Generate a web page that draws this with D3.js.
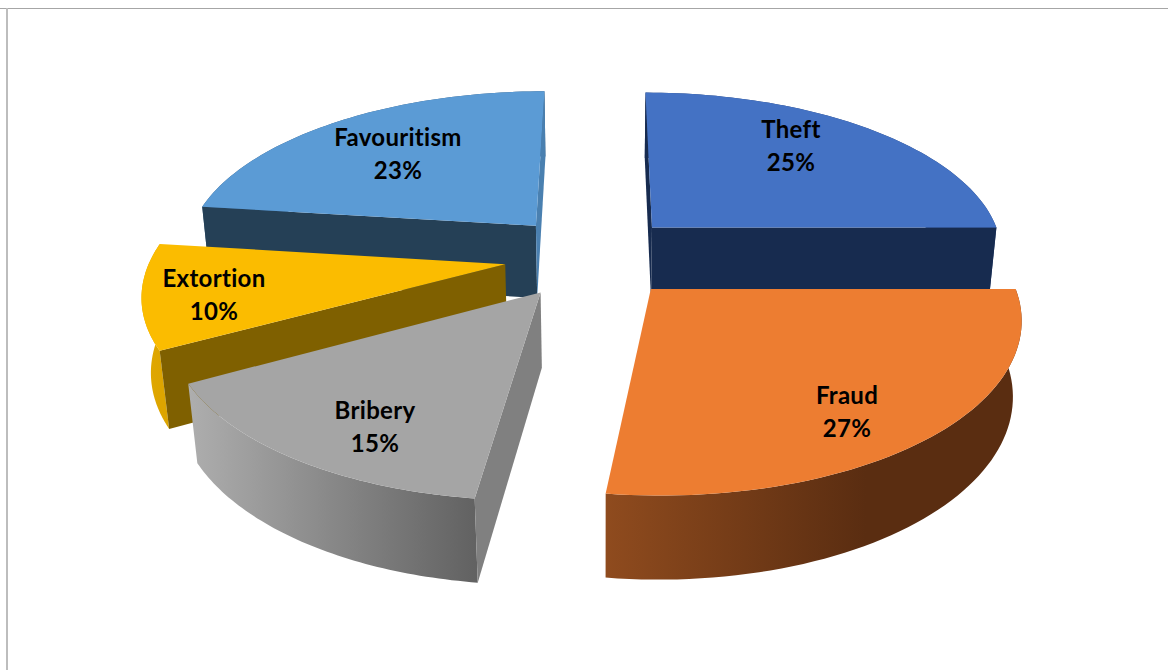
<!DOCTYPE html>
<html>
<head>
<meta charset="utf-8">
<title>Types of corruption</title>
<script src="https://cdn.jsdelivr.net/npm/d3@7/dist/d3.min.js"></script>
<style>
  html, body { margin: 0; padding: 0; background: #fff; }
  svg { display: block; }
  text { font-family: Lato, "Open Sans", sans-serif; font-weight: 700; font-size: 24px; letter-spacing: 0.3px; fill: #000; text-anchor: middle; }
</style>
</head>
<body>
<svg id="chart" width="1168" height="670"></svg>
<script>
// Slice data, clockwise from twelve o'clock
const categories = ["Theft", "Fraud", "Bribery", "Extortion", "Favouritism"];
const shares = [25, 27, 15, 10, 23];

// Fill colours per slice
const topColors = ["#4472C4", "#ED7D31", "#A5A5A5", "#FBBC00", "#5B9BD5"];
const startCutColors = ["#172B4F", "#5E2F12", "#808080", "#7F6000", "#254056"];
const endCutColors = ["#172B4F", "#5E2F12", "#808080", "#7F6000", "#4A80B0"];
const wallFrom = ["#2B4476", "#8F4B1E", "#AEAEAE", "#E2A900", "#375D80"];
const wallTo = ["#2B4476", "#5A2D11", "#626262", "#DDA500", "#375D80"];

// Label centres on the page
const labelCentres = [[791, 145], [847, 411], [375, 426], [214, 294], [398, 153]];

// Back-to-front painting order of the slices
const paintOrder = [0, 4, 3, 2, 1];

// Camera model of the tilted disc
const horizonY = -810;
const vanishX = 602;
const nadirY = 4810;
const thickness = 1.883e-5;
const discCentre = { across: -0.0292, along: 6.512 };
const explodeAcross = 0.2465;
const explodeAlong = 0.257;
const acrossScale = d3.scaleLinear().domain([0, 1]).range([0, 0.332]);
const alongScale = d3.scaleLinear().domain([0, 1]).range([0, 1.44e-4]);

// Disc coordinates to page coordinates; lower = true gives the underside of the slab
function project(across, along, lower) {
  const u = acrossScale(across);
  const q = alongScale(along);
  const h = lower ? thickness : 0;
  return [vanishX + u / (q + h), horizonY + (1 + nadirY * h) / (q + h)];
}

const svg = d3.select("#chart");
const defs = svg.append("defs");
const linePath = d3.line().curve(d3.curveLinear);

// Frame around the chart area
svg.append("rect").attr("x", 0).attr("y", 8).attr("width", 1168).attr("height", 1).attr("fill", "#A6A6A6");
svg.append("rect").attr("x", 6).attr("y", 8).attr("width", 2).attr("height", 662).attr("fill", "#BDBDBD");

const arcs = d3.pie().sort(null).value(d => d)(shares);

function signedArea(points) {
  let sum = 0;
  points.forEach((p, i) => {
    const n = points[(i + 1) % points.length];
    sum += p[0] * n[1] - n[0] * p[1];
  });
  return sum / 2;
}

paintOrder.forEach(i => {
  const arc = arcs[i];
  const mid = (arc.startAngle + arc.endAngle) / 2;
  const apexA = discCentre.across + explodeAcross * Math.sin(mid);
  const apexB = discCentre.along + explodeAlong * Math.cos(mid);
  const rim = lower => d3.range(0, 61).map(k => {
    const a = arc.startAngle + (arc.endAngle - arc.startAngle) * k / 60;
    return project(apexA + Math.sin(a), apexB + Math.cos(a), lower);
  });
  const rimTop = rim(false);
  const rimLow = rim(true);
  const apexTop = project(apexA, apexB, false);
  const apexLow = project(apexA, apexB, true);

  const group = svg.append("g").attr("class", "slice");

  // Outer wall, shaded across its width
  const xs = rimTop.map(p => p[0]);
  const grad = defs.append("linearGradient")
    .attr("id", "wall" + i)
    .attr("gradientUnits", "userSpaceOnUse")
    .attr("x1", d3.min(xs)).attr("x2", i === 1 ? d3.min(xs) + 260 : d3.max(xs))
    .attr("y1", 0).attr("y2", 0);
  grad.append("stop").attr("offset", 0).attr("stop-color", wallFrom[i]);
  grad.append("stop").attr("offset", 1).attr("stop-color", wallTo[i]);
  group.append("path")
    .attr("d", linePath(rimTop.concat(rimLow.slice().reverse())) + "Z")
    .attr("fill", `url(#wall${i})`);

  // The two radial cut faces, drawn only where they turn towards the viewer
  const startFace = [rimTop[0], apexTop, apexLow, rimLow[0]];
  const endFace = [apexTop, rimTop[60], rimLow[60], apexLow];
  if (signedArea(startFace) > 0) {
    group.append("path").attr("d", linePath(startFace) + "Z").attr("fill", startCutColors[i]);
  }
  if (signedArea(endFace) > 0) {
    group.append("path").attr("d", linePath(endFace) + "Z").attr("fill", endCutColors[i]);
  }

  // Top surface
  group.append("path")
    .attr("d", linePath([apexTop].concat(rimTop)) + "Z")
    .attr("fill", topColors[i]);
});

// Category and percentage labels
const percent = d3.format(".0%");
const total = d3.sum(shares);
categories.forEach((name, i) => {
  const [x, y] = labelCentres[i];
  const label = svg.append("text").attr("x", x).attr("y", y - 7);
  label.append("tspan").attr("x", x).text(name);
  label.append("tspan").attr("x", x).attr("dy", 33).text(percent(shares[i] / total));
});
</script>
</body>
</html>
